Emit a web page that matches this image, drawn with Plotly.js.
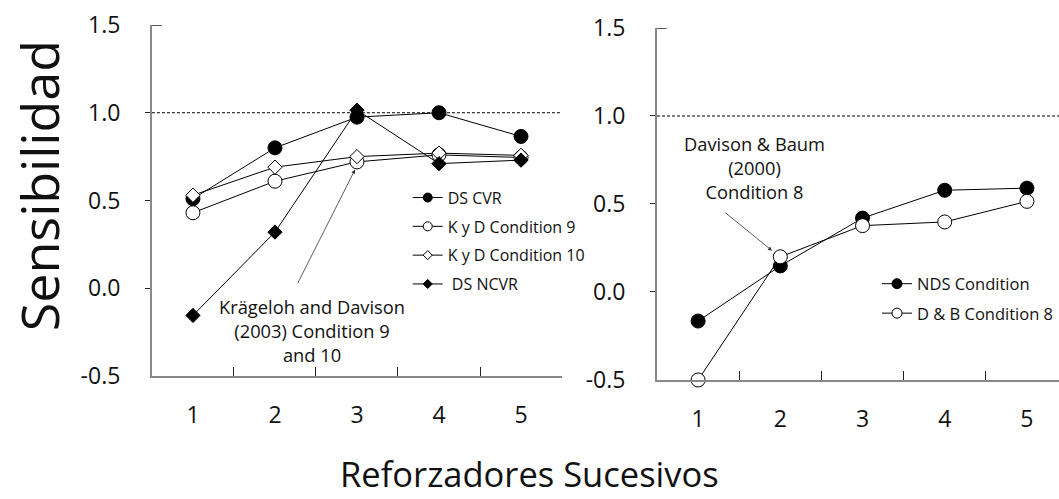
<!DOCTYPE html>
<html>
<head>
<meta charset="utf-8">
<script src="https://cdn.plot.ly/plotly-3.0.1.min.js"></script>
<style>
  html, body { margin: 0; padding: 0; background: #fff; }
  #chart { width: 1059px; height: 499px; }
</style>
</head>
<body>
<div id="chart"></div>
<script>
// Successive reinforcers (x categories)
const reinforcers = ['1', '2', '3', '4', '5'];

// Left panel series
const dsCvr    = [0.51, 0.80, 0.975, 1.00, 0.865];
const kdCond9  = [0.43, 0.61, 0.72, 0.76, 0.745];
const kdCond10 = [0.53, 0.69, 0.75, 0.77, 0.757];
const dsNcvr   = [-0.155, 0.32, 1.015, 0.71, 0.73];

// Right panel series
const ndsCond  = [-0.165, 0.148, 0.42, 0.578, 0.59];
const dbCond8  = [-0.5, 0.20, 0.377, 0.398, 0.515];

// Y tick values (shared)
const yTicks = [-0.5, 0, 0.5, 1.0, 1.5];
const yTickText = ['-0.5', '0.0', '0.5', '1.0', '1.5'];

const FONT = 'Open Sans, sans-serif';
const lineStyle = { color: '#000', width: 1 };

// Plotted series (legend entries are separate swatches with smaller markers)
function series(y, name, symbol, fill, size, xa, ya) {
  return {
    type: 'scatter', mode: 'lines+markers',
    x: reinforcers, y: y, name: name,
    xaxis: xa, yaxis: ya, showlegend: false,
    line: lineStyle, cliponaxis: false,
    marker: { symbol: symbol, size: size, color: fill, line: { color: '#000', width: 1 } },
    hoverinfo: 'x+y+name'
  };
}
// Legend-only swatch: no plotted values, just the key symbol
const noValues = reinforcers.map(() => null);
function swatch(name, symbol, fill, size, xa, ya, legend) {
  return {
    type: 'scatter', mode: 'lines+markers',
    x: reinforcers, y: noValues, name: name,
    xaxis: xa, yaxis: ya, legend: legend, legendgroup: name, showlegend: true,
    line: lineStyle,
    marker: { symbol: symbol, size: size, color: fill, line: { color: '#000', width: 1 } },
    hoverinfo: 'skip'
  };
}

const traces = [
  series(dsCvr,    'DS CVR',             'circle',  '#000', 14, 'x', 'y'),
  series(kdCond9,  'K y D Condition 9',  'circle',  '#fff', 14, 'x', 'y'),
  series(kdCond10, 'K y D Condition 10', 'diamond', '#fff', 11, 'x', 'y'),
  series(dsNcvr,   'DS NCVR',            'diamond', '#000', 11, 'x', 'y'),
  series(ndsCond,  'NDS Condition',      'circle',  '#000', 14, 'x2', 'y2'),
  series(dbCond8,  'D & B Condition 8',  'circle',  '#fff', 14, 'x2', 'y2'),

  swatch('DS CVR',             'circle',  '#000', 9, 'x', 'y', 'legend'),
  swatch('K y D Condition 9',  'circle',  '#fff', 9, 'x', 'y', 'legend'),
  swatch('K y D Condition 10', 'diamond', '#fff', 7, 'x', 'y', 'legend'),
  swatch(' DS NCVR',           'diamond', '#000', 7, 'x', 'y', 'legend'),
  swatch('NDS Condition',      'circle',  '#000', 10, 'x2', 'y2', 'legend2'),
  swatch('D & B Condition 8',  'circle',  '#fff', 10, 'x2', 'y2', 'legend2')
];

function xAxis(domain, range, anchor) {
  return {
    type: 'category', domain: domain, range: range, anchor: anchor,
    tickson: 'boundaries', ticks: 'inside', ticklen: 9, tickwidth: 1.3, tickcolor: '#222',
    showline: true, linecolor: '#888', linewidth: 2,
    showgrid: false, zeroline: false,
    tickfont: { family: FONT, size: 23, color: '#111' },
    ticklabelstandoff: 17, fixedrange: true
  };
}

function yAxis(domain, anchor) {
  return {
    domain: domain, range: [-0.5, 1.5], anchor: anchor,
    tickmode: 'array', tickvals: yTicks, ticktext: yTickText,
    ticks: '', showline: true, linecolor: '#888', linewidth: 2,
    minor: { tickmode: 'array', tickvals: [0, 0.5, 1.0], ticks: 'outside', ticklen: 5, tickwidth: 1.3, tickcolor: '#222', showgrid: false },
    showgrid: false, zeroline: false,
    tickfont: { family: FONT, size: 23, color: '#111' },
    ticklabelstandoff: 25, fixedrange: true
  };
}

// Dashed reference line at sensitivity 1.0 and the short top tick of each y axis
function refLine(xr, yr) {
  return { type: 'line', xref: xr + ' domain', yref: yr, x0: 0, x1: 1, y0: 1, y1: 1,
           line: { color: '#000', width: 1, dash: '3px,2px' } };
}
function topTick(xr, yr) {
  return { type: 'line', xref: xr + ' domain', yref: yr, x0: 0, x1: 0.024, y0: 1.5, y1: 1.5,
           line: { color: '#222', width: 1.5 } };
}

const layout = {
  width: 1059, height: 499,
  margin: { l: 0, r: 0, t: 0, b: 0 },
  paper_bgcolor: '#fff', plot_bgcolor: 'rgba(0,0,0,0)',
  font: { family: FONT, color: '#111' },
  xaxis:  xAxis([0.1435, 0.5307], [-0.5, 4.5], 'y'),
  yaxis:  yAxis([0.2465, 0.9499], 'x'),
  xaxis2: xAxis([0.6204, 1.0], [-0.5, 4.39], 'y2'),
  yaxis2: yAxis([0.2385, 0.9439], 'x2'),
  legend: {
    x: 0.385, y: 0.638, xanchor: 'left', yanchor: 'top',
    bgcolor: 'rgba(0,0,0,0)', font: { family: FONT, size: 16, color: '#111' },
    tracegroupgap: 5
  },
  legend2: {
    x: 1, y: 0.466, xanchor: 'right', yanchor: 'top',
    bgcolor: 'rgba(0,0,0,0)', font: { family: FONT, size: 16.5, color: '#111' },
    tracegroupgap: 5
  },
  shapes: [refLine('x', 'y'), refLine('x2', 'y2'), topTick('x', 'y'), topTick('x2', 'y2')],
  annotations: [
    { xref: 'paper', yref: 'paper', x: 0.036, y: 0.627, xanchor: 'center', yanchor: 'middle',
      text: 'Sensibilidad', textangle: -90,
      showarrow: false, font: { family: FONT, size: 52, color: '#111' } },
    { xref: 'paper', yref: 'paper', x: 0.5, y: 0.052, xanchor: 'center', yanchor: 'middle',
      text: 'Reforzadores Sucesivos',
      showarrow: false, font: { family: FONT, size: 34.5, color: '#111' } },
    { xref: 'paper', yref: 'paper', x: 0.2946, y: 0.3367, xanchor: 'center', yanchor: 'middle',
      text: 'Krägeloh and Davison<br>(2003) Condition 9<br>and 10',
      showarrow: false, font: { family: FONT, size: 18.3, color: '#111' } },
    { xref: 'x', yref: 'y', x: 1.976, y: 0.676, ax: -58, ay: 115, text: '',
      showarrow: true, arrowhead: 2, arrowsize: 1, arrowwidth: 0.8, arrowcolor: '#333' },
    { xref: 'paper', yref: 'paper', x: 0.7129, y: 0.6653, xanchor: 'center', yanchor: 'middle',
      text: 'Davison & Baum<br>(2000)<br>Condition 8',
      showarrow: false, font: { family: FONT, size: 18.3, color: '#111' } },
    { xref: 'x2', yref: 'y2', x: 0.899, y: 0.235, ax: -48, ay: -39, text: '',
      showarrow: true, arrowhead: 2, arrowsize: 1, arrowwidth: 0.8, arrowcolor: '#333' }
  ]
};

Plotly.newPlot('chart', traces, layout, { displayModeBar: false, responsive: false });
</script>
</body>
</html>
